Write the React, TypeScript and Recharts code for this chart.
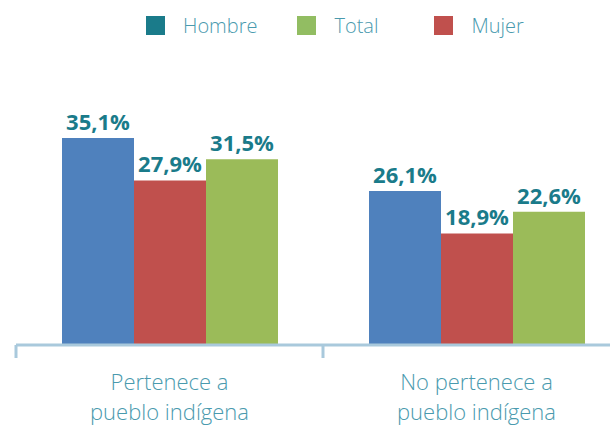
import React from 'react';
import { BarChart, Bar, XAxis, YAxis, LabelList } from 'recharts';

const categories = ['Pertenece a\npueblo indígena', 'No pertenece a\npueblo indígena'];
const hombre = [35.1, 26.1];
const mujer = [27.9, 18.9];
const total = [31.5, 22.6];

const legendNames = ['Hombre', 'Total', 'Mujer'];
const legendColors = ['#1a7b8a', '#92bd62', '#c0504d'];

const data = categories.map((name, i) => ({
  name,
  hombre: hombre[i],
  mujer: mujer[i],
  total: total[i],
}));

const BAND = 307; // category band width in px
const axisColor = '#a9c9dc';
const textColor = '#4a9aae';

const fmt = (v: any) => `${Number(v).toFixed(1).replace('.', ',')}%`;

const CategoryTick = ({ x, y, payload }: any) => {
  const lines = String(payload.value).split('\n');
  const left = x - BAND / 2;
  return (
    <g>
      <line x1={left} y1={y} x2={left} y2={y + 13} stroke={axisColor} strokeWidth={3} />
      {lines.map((l, i) => (
        <text
          key={i}
          x={x}
          y={y + 45 + i * 30}
          textAnchor="middle"
          fill={textColor}
          fontSize={22}
          fontFamily="'Open Sans', sans-serif"
          fontWeight={300}
        >
          {l}
        </text>
      ))}
    </g>
  );
};

const ChartLegend = () => (
  <div style={{ position: 'absolute', top: 12, left: 146, display: 'flex', alignItems: 'center', fontFamily: "'Open Sans', sans-serif" }}>
    {legendNames.map((n, i) => (
      <div key={n} style={{ display: 'flex', alignItems: 'center', marginRight: i === 0 ? 40 : 56 }}>
        <span style={{ width: 19, height: 19, background: legendColors[i], display: 'inline-block', marginRight: 18 }} />
        <span style={{ color: textColor, fontSize: 20, fontWeight: 300 }}>{n}</span>
      </div>
    ))}
  </div>
);

export default function App() {
  return (
    <div style={{ position: 'absolute', left: 0, top: 0, width: 610, height: 427, overflow: 'hidden', background: '#fff' }}>
      <BarChart
        width={630}
        height={427}
        data={data}
        margin={{ top: 109, right: 0, left: 16, bottom: 0 }}
        barGap={0}
      >
        <XAxis
          dataKey="name"
          height={82}
          axisLine={{ stroke: axisColor, strokeWidth: 3 }}
          tickLine={false}
          tickSize={0}
          tickMargin={0}
          tick={<CategoryTick />}
          interval={0}
        />
        <YAxis hide domain={[0, 40]} />
        <Bar dataKey="hombre" fill="#4f81bd" barSize={72} isAnimationActive={false}>
          <LabelList dataKey="hombre" position="top" offset={8} formatter={fmt} fill="#1a7b8a" fontSize={22} fontWeight="bold" fontFamily="'Open Sans', sans-serif" />
        </Bar>
        <Bar dataKey="mujer" fill="#c0504d" barSize={72} isAnimationActive={false}>
          <LabelList dataKey="mujer" position="top" offset={8} formatter={fmt} fill="#1a7b8a" fontSize={22} fontWeight="bold" fontFamily="'Open Sans', sans-serif" />
        </Bar>
        <Bar dataKey="total" fill="#9bbb59" barSize={72} isAnimationActive={false}>
          <LabelList dataKey="total" position="top" offset={8} formatter={fmt} fill="#1a7b8a" fontSize={22} fontWeight="bold" fontFamily="'Open Sans', sans-serif" />
        </Bar>
      </BarChart>
      <ChartLegend />
    </div>
  );
}
